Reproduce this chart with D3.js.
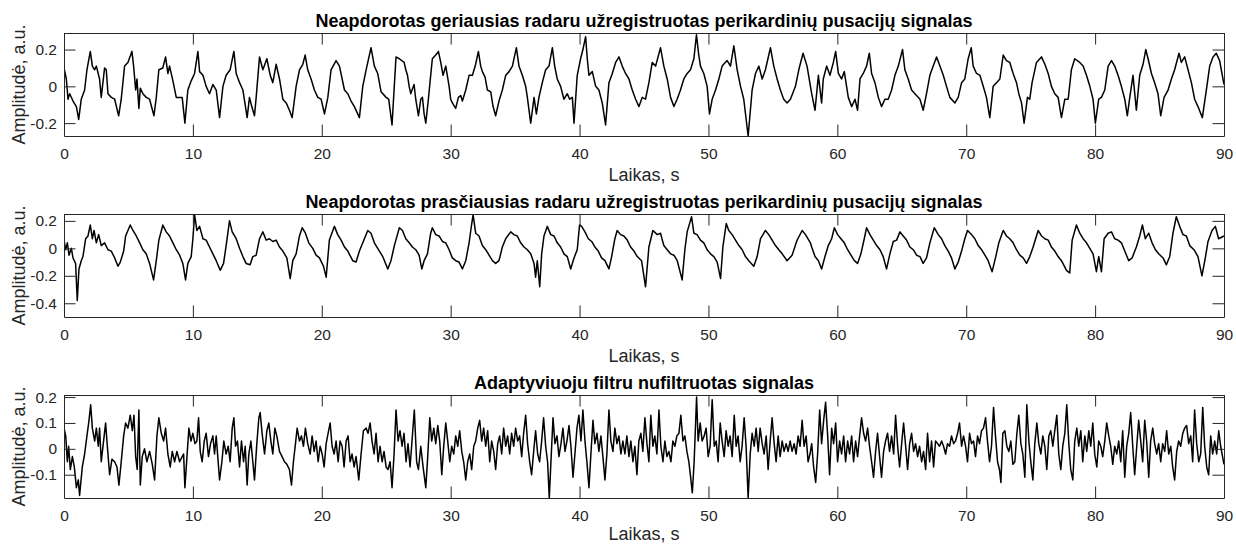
<!DOCTYPE html>
<html lang="lt">
<head>
  <meta charset="UTF-8">
  <title>Perikardinių pusacijų signalai</title>
  <style>
    body, html {
      margin: 0;
      padding: 0;
      background: #fff;
    }
    #svg {
      display: block;
      font-family: "Liberation Sans", Arial, Helvetica, sans-serif;
    }
  </style>
</head>
<body>
  <svg id="svg" width="1236" height="544"></svg>
  <script src="https://d3js.org/d3.v7.min.js"></script>
  <script>
    // titles and axis labels
    const titles = [
      'Neapdorotas geriausias radaru užregistruotas perikardinių pusacijų signalas',
      'Neapdorotas prasčiausias radaru užregistruotas perikardinių pusacijų signalas',
      'Adaptyviuoju filtru nufiltruotas signalas'
    ]
    const xLabel = 'Laikas, s'
    const yLabel = 'Amplitudė, a.u.'

    // ticks and limits
    const xTicks = [0, 10, 20, 30, 40, 50, 60, 70, 80, 90]
    const yTicks1 = [-0.2, 0, 0.2]
    const yTicks2 = [-0.4, -0.2, 0, 0.2]
    const yTicks3 = [-0.1, 0, 0.1, 0.2]
    const yLim1 = [-0.27, 0.29]
    const yLim2 = [-0.5, 0.25]
    const yLim3 = [-0.19, 0.208]

    // signals: [time s, amplitude]
    const sig1 = [
      [0,0.10],[0.18,0.04],[0.31,-0.07],[0.44,-0.04],[0.70,-0.08],[0.96,-0.11],[1.14,-0.18],[1.34,-0.07],[1.60,-0.02],[1.78,0.09],
      [2.04,0.19],[2.20,0.11],[2.38,0.09],[2.51,0.11],[2.76,0.04],[2.89,-0.06],[3.15,0.10],[3.28,0.09],[3.41,-0.04],[3.67,-0.06],
      [3.93,-0.07],[4.24,-0.16],[4.44,-0.07],[4.70,0.11],[4.96,0.13],[5.27,0.19],[5.40,0.11],[5.56,-0.02],[5.66,0.04],[5.81,-0.12],
      [5.92,-0.01],[6.12,-0.04],[6.38,-0.06],[6.64,-0.07],[6.98,-0.16],[7.16,-0.06],[7.36,0.09],[7.67,0.10],[7.88,0.16],[8.06,0.07],
      [8.19,0.11],[8.45,0.03],[8.71,-0.06],[8.97,-0.06],[9.17,-0.06],[9.38,-0.20],[9.61,-0.02],[9.87,0.03],[10.13,0.07],[10.39,0.19],
      [10.52,0.08],[10.78,0.06],[11.03,0.00],[11.29,-0.04],[11.55,0.01],[11.81,-0.02],[12.07,-0.17],[12.33,0.00],[12.58,0.06],[12.89,0.09],
      [13.18,0.19],[13.36,0.07],[13.62,0.02],[13.88,-0.02],[14.21,-0.17],[14.39,-0.06],[14.57,-0.11],[14.78,-0.16],[14.91,-0.06],[15.17,0.16],
      [15.43,0.09],[15.74,0.15],[16.00,0.06],[16.20,0.02],[16.46,0.12],[16.72,0.04],[16.98,-0.07],[17.24,-0.09],[17.49,-0.13],[17.70,-0.17],
      [18.01,0.00],[18.27,0.09],[18.53,0.12],[18.71,0.17],[18.91,0.09],[19.17,0.04],[19.43,-0.02],[19.69,-0.06],[19.95,-0.07],[20.21,-0.15],
      [20.47,-0.06],[20.72,0.09],[21.11,0.14],[21.37,0.11],[21.58,0.04],[21.76,-0.02],[22.02,-0.04],[22.27,-0.08],[22.53,-0.11],[22.92,-0.17],
      [23.18,0.00],[23.44,0.09],[23.82,0.21],[24.08,0.11],[24.34,0.07],[24.60,-0.03],[24.99,-0.06],[25.19,-0.07],[25.45,-0.21],[25.76,0.16],
      [26.02,0.15],[26.39,0.13],[26.52,0.09],[26.65,0.06],[26.78,0.00],[26.90,-0.04],[27.16,0.01],[27.29,-0.07],[27.50,-0.16],[27.68,-0.07],
      [27.81,-0.06],[27.94,-0.15],[28.07,-0.20],[28.27,-0.07],[28.45,0.06],[28.58,0.15],[28.84,0.17],[29.05,0.19],[29.23,0.13],[29.41,0.06],
      [29.62,0.11],[29.88,0.00],[30.00,-0.07],[30.13,-0.09],[30.39,-0.12],[30.60,-0.06],[30.78,-0.05],[30.91,-0.08],[31.17,-0.02],[31.43,0.06],
      [31.69,0.06],[31.94,0.12],[32.15,0.19],[32.33,0.11],[32.46,0.08],[32.67,0.05],[32.85,-0.02],[33.11,-0.03],[33.29,-0.11],[33.49,-0.16],
      [33.75,-0.08],[34.01,-0.02],[34.27,0.06],[34.53,0.08],[34.79,0.11],[35.10,0.21],[35.30,0.11],[35.56,0.06],[35.82,0.00],[35.95,-0.06],
      [36.21,-0.20],[36.47,-0.06],[36.65,-0.15],[36.85,-0.06],[37.11,0.02],[37.37,0.09],[37.63,0.11],[37.89,0.21],[38.07,0.11],[38.27,0.04],
      [38.53,0.00],[38.79,-0.07],[39.05,-0.04],[39.23,-0.07],[39.44,-0.06],[39.57,-0.20],[39.82,0.06],[40.08,0.15],[40.26,0.20],[40.47,0.27],
      [40.60,0.15],[40.73,0.06],[40.99,0.08],[41.25,0.00],[41.50,-0.02],[41.76,-0.09],[42.02,-0.21],[42.28,0.02],[42.54,0.07],[42.80,0.13],
      [43.06,0.16],[43.31,0.11],[43.57,0.07],[43.83,0.04],[44.09,-0.02],[44.35,-0.07],[44.61,-0.11],[44.86,-0.06],[45.12,-0.07],[45.38,0.02],
      [45.64,0.13],[45.90,0.11],[46.28,0.21],[46.54,0.11],[46.80,0.04],[47.06,-0.06],[47.32,-0.11],[47.57,-0.07],[47.83,-0.02],[48.09,0.04],
      [48.35,0.07],[48.61,0.09],[48.87,0.15],[49.07,0.28],[49.25,0.17],[49.38,0.11],[49.64,0.07],[49.90,0.00],[50.08,-0.15],[50.29,-0.07],
      [50.55,-0.02],[50.81,0.04],[51.06,0.11],[51.45,0.14],[51.71,0.11],[51.97,0.22],[52.23,0.09],[52.49,0.00],[52.74,-0.07],[53.08,-0.27],
      [53.39,-0.02],[53.65,0.07],[53.91,0.11],[54.17,0.04],[54.42,0.09],[54.81,0.21],[55.07,0.11],[55.33,0.04],[55.58,-0.02],[55.84,-0.07],
      [56.10,-0.09],[56.36,-0.07],[56.75,0.00],[57.01,0.09],[57.34,0.18],[57.65,0.11],[58.01,-0.04],[58.27,-0.13],[58.53,0.06],[58.78,-0.09],
      [58.91,0.04],[59.17,0.11],[59.43,0.06],[59.69,0.13],[59.87,0.19],[60.08,0.07],[60.33,0.04],[60.54,0.08],[60.85,-0.06],[61.11,-0.11],
      [61.37,-0.07],[61.57,-0.13],[61.76,0.04],[62.01,0.07],[62.27,0.11],[62.48,0.18],[62.66,0.07],[62.92,0.02],[63.18,-0.06],[63.43,-0.11],
      [63.69,-0.07],[63.95,-0.07],[64.21,-0.02],[64.47,0.06],[64.73,0.11],[65.06,0.20],[65.24,0.09],[65.50,0.04],[65.76,-0.02],[66.02,-0.04],
      [66.41,-0.07],[66.66,-0.13],[66.92,-0.04],[67.18,0.06],[67.44,0.11],[67.70,0.16],[67.96,0.11],[68.22,0.06],[68.47,0.00],[68.73,-0.06],
      [69.12,-0.09],[69.38,-0.06],[69.64,0.02],[69.89,0.04],[70.15,0.15],[70.39,0.21],[70.54,0.11],[70.80,0.07],[71.06,0.06],[71.32,0.00],
      [71.57,-0.06],[71.83,-0.17],[72.09,0.00],[72.35,0.02],[72.61,0.04],[72.87,0.17],[73.12,0.14],[73.38,0.13],[73.64,0.07],[73.90,0.02],
      [74.08,-0.04],[74.29,-0.09],[74.49,-0.20],[74.75,-0.06],[74.93,-0.07],[75.11,0.02],[75.45,0.13],[75.84,0.16],[76.10,0.12],[76.36,0.07],
      [76.61,0.00],[76.87,-0.04],[77.13,-0.06],[77.39,-0.17],[77.65,-0.07],[77.91,-0.07],[78.16,0.09],[78.42,0.15],[78.81,0.13],[79.07,0.11],
      [79.33,0.06],[79.59,0.00],[79.84,-0.07],[80.02,-0.20],[80.28,-0.07],[80.49,-0.06],[80.75,-0.02],[81.01,0.11],[81.27,0.14],[81.52,0.11],
      [81.78,0.06],[82.04,0.00],[82.30,-0.07],[82.50,-0.16],[82.69,-0.06],[82.94,0.06],[83.20,-0.13],[83.46,0.06],[83.72,0.12],[83.93,0.20],
      [84.11,0.15],[84.37,0.07],[84.62,0.02],[84.88,-0.04],[85.09,-0.16],[85.35,-0.06],[85.66,-0.02],[85.92,0.04],[86.17,0.09],[86.51,0.18],
      [86.69,0.13],[86.95,0.16],[87.21,0.09],[87.47,0.02],[87.72,-0.07],[87.98,-0.11],[88.32,-0.17],[88.63,-0.02],[88.89,0.11],[89.15,0.16],
      [89.40,0.18],[89.66,0.14],[90,0.01]
    ]

    const sig2 = [
      [0,0.06],[0.13,-0.01],[0.26,0.04],[0.39,-0.05],[0.57,0.00],[0.70,-0.07],[0.90,-0.11],[1.03,-0.38],[1.16,-0.15],[1.34,-0.09],
      [1.47,-0.06],[1.68,0.07],[1.86,0.09],[2.04,0.17],[2.20,0.07],[2.33,0.13],[2.51,0.04],[2.69,0.10],[2.89,0.02],[3.15,0.04],
      [3.41,-0.01],[3.67,-0.02],[3.93,-0.07],[4.19,-0.13],[4.37,-0.10],[4.63,-0.02],[4.78,0.09],[5.14,0.17],[5.35,0.13],[5.61,0.09],
      [5.87,0.04],[6.12,-0.01],[6.38,-0.04],[6.64,-0.11],[6.95,-0.23],[7.16,-0.09],[7.36,0.06],[7.67,0.17],[7.93,0.12],[8.19,0.09],
      [8.45,0.04],[8.71,-0.01],[8.97,-0.05],[9.22,-0.11],[9.43,-0.23],[9.61,-0.11],[9.87,-0.06],[10.00,0.07],[10.13,0.245],[10.31,0.13],
      [10.52,0.16],[10.78,0.07],[11.03,0.06],[11.29,0.01],[11.55,-0.04],[11.81,-0.09],[12.12,-0.16],[12.38,-0.11],[12.58,0.02],[12.84,0.20],
      [13.05,0.12],[13.36,0.07],[13.62,0.00],[13.88,-0.06],[14.13,-0.11],[14.44,-0.12],[14.65,-0.06],[14.91,-0.05],[15.17,0.07],[15.43,0.12],
      [15.68,0.06],[15.94,0.07],[16.20,0.05],[16.46,0.06],[16.72,0.01],[16.98,-0.02],[17.29,-0.07],[17.55,-0.22],[17.75,-0.09],[18.01,-0.04],
      [18.27,0.09],[18.48,0.15],[18.73,0.11],[18.99,0.04],[19.30,0.00],[19.56,-0.05],[19.82,-0.07],[20.13,-0.13],[20.34,-0.21],[20.59,0.06],
      [20.98,0.16],[21.24,0.10],[21.50,0.06],[21.76,0.01],[22.02,-0.02],[22.40,-0.09],[22.66,-0.10],[22.92,-0.02],[23.18,0.04],[23.57,0.13],
      [23.82,0.11],[24.08,0.04],[24.34,0.00],[24.73,-0.06],[25.12,-0.15],[25.37,-0.09],[25.63,0.02],[26.02,0.15],[26.26,0.13],[26.52,0.07],
      [26.78,0.04],[27.03,0.01],[27.29,-0.01],[27.55,-0.05],[27.76,-0.15],[27.94,-0.09],[28.20,-0.04],[28.45,0.11],[28.58,0.15],[28.84,0.10],
      [29.10,0.09],[29.36,0.05],[29.62,0.04],[29.88,-0.01],[30.13,-0.07],[30.39,-0.09],[30.65,-0.10],[30.91,-0.15],[31.17,-0.09],[31.43,0.04],
      [31.56,0.13],[31.74,0.245],[31.94,0.11],[32.20,0.09],[32.46,0.02],[32.72,-0.01],[32.98,-0.05],[33.24,-0.09],[33.49,-0.11],[33.75,-0.09],
      [34.01,0.01],[34.27,0.07],[34.66,0.12],[34.91,0.10],[35.17,0.09],[35.43,0.04],[35.69,0.01],[35.95,-0.01],[36.21,-0.04],[36.47,-0.11],
      [36.59,-0.21],[36.72,-0.09],[36.91,-0.28],[37.06,-0.04],[37.24,0.09],[37.50,0.16],[37.76,0.10],[38.02,0.09],[38.27,0.04],[38.53,0.01],
      [38.79,-0.04],[39.05,-0.06],[39.31,-0.15],[39.57,-0.07],[39.82,-0.01],[40.00,0.17],[40.16,0.16],[40.42,0.12],[40.68,0.07],[40.94,0.05],
      [41.19,0.01],[41.45,-0.02],[41.71,-0.07],[41.97,-0.09],[42.28,-0.15],[42.49,-0.06],[42.74,0.07],[42.92,0.13],[43.18,0.10],[43.44,0.09],
      [43.70,0.06],[43.96,0.01],[44.22,-0.02],[44.48,-0.06],[44.81,-0.09],[45.12,-0.28],[45.38,0.01],[45.69,0.13],[46.03,0.10],[46.28,0.11],
      [46.54,0.02],[46.80,-0.01],[47.06,-0.04],[47.32,-0.05],[47.58,-0.09],[47.96,-0.23],[48.17,-0.01],[48.35,0.12],[48.69,0.23],[48.87,0.11],
      [49.12,0.10],[49.38,0.06],[49.64,0.04],[49.90,-0.01],[50.16,-0.04],[50.42,-0.06],[50.68,-0.10],[50.94,-0.22],[51.12,0.01],[51.38,0.18],
      [51.58,0.13],[51.84,0.10],[52.10,0.06],[52.36,0.02],[52.62,-0.01],[52.87,-0.06],[53.13,-0.09],[53.52,-0.13],[53.78,-0.06],[54.04,0.07],
      [54.42,0.13],[54.68,0.10],[54.94,0.06],[55.20,0.02],[55.46,-0.01],[55.72,-0.04],[56.10,-0.09],[56.49,-0.05],[56.88,0.06],[57.27,0.13],
      [57.53,0.10],[57.91,0.04],[58.01,0.01],[58.27,-0.06],[58.53,-0.09],[58.78,-0.15],[59.04,-0.06],[59.30,0.02],[59.56,0.07],[59.77,0.15],
      [60.02,0.10],[60.28,0.07],[60.54,0.04],[60.80,-0.01],[61.06,-0.05],[61.32,-0.09],[61.57,-0.11],[61.83,-0.04],[62.09,0.07],[62.27,0.15],
      [62.53,0.10],[62.79,0.06],[63.05,0.02],[63.31,-0.01],[63.56,-0.06],[63.82,-0.15],[64.08,-0.04],[64.34,0.05],[64.60,0.06],[64.86,0.12],
      [65.11,0.09],[65.37,0.06],[65.63,0.01],[65.89,-0.01],[66.15,-0.05],[66.41,-0.06],[66.66,-0.11],[66.92,-0.07],[67.18,0.04],[67.52,0.15],
      [67.83,0.10],[68.09,0.07],[68.34,0.02],[68.60,-0.02],[68.86,-0.07],[69.12,-0.15],[69.38,-0.10],[69.64,-0.02],[69.89,0.07],[70.10,0.13],
      [70.41,0.10],[70.67,0.07],[70.93,0.02],[71.19,-0.01],[71.45,-0.05],[71.70,-0.09],[72.01,-0.17],[72.27,-0.07],[72.53,0.04],[72.87,0.13],
      [73.12,0.09],[73.38,0.07],[73.64,0.04],[73.90,-0.01],[74.16,-0.05],[74.42,-0.07],[74.68,-0.11],[74.93,-0.06],[75.19,0.01],[75.58,0.13],
      [75.84,0.09],[76.10,0.07],[76.36,0.06],[76.61,0.01],[76.87,-0.02],[77.13,-0.06],[77.39,-0.09],[77.78,-0.16],[78.03,-0.18],[78.22,0.06],
      [78.55,0.17],[78.81,0.11],[79.07,0.07],[79.33,0.04],[79.59,0.00],[79.84,-0.04],[80.10,-0.17],[80.28,-0.06],[80.49,-0.17],[80.70,0.07],
      [81.01,0.11],[81.27,0.12],[81.52,0.07],[81.78,0.06],[82.04,0.04],[82.30,-0.02],[82.61,-0.09],[82.87,-0.07],[83.20,0.01],[83.46,0.09],
      [83.67,0.17],[83.90,0.07],[84.16,0.11],[84.42,0.04],[84.68,-0.01],[84.93,-0.04],[85.27,-0.07],[85.53,-0.12],[85.79,-0.06],[86.04,0.11],
      [86.30,0.23],[86.56,0.16],[86.82,0.10],[87.08,0.09],[87.34,0.02],[87.67,-0.01],[87.98,-0.06],[88.29,-0.20],[88.55,-0.07],[88.76,0.05],
      [89.07,0.13],[89.33,0.16],[89.58,0.07],[90,0.09]
    ]

    const sig3 = [
      [0,0.08],[0.13,0.05],[0.26,-0.05],[0.36,0.01],[0.49,-0.08],[0.65,-0.03],[0.80,-0.07],[0.96,-0.15],[1.11,-0.12],[1.21,-0.18],
      [1.42,-0.07],[1.60,-0.02],[1.78,0.05],[1.94,0.11],[2.07,0.17],[2.20,0.08],[2.38,0.03],[2.51,0.08],[2.66,0.01],[2.76,0.08],
      [2.89,-0.05],[3.07,0.03],[3.23,0.10],[3.33,0.03],[3.54,-0.10],[3.72,-0.04],[3.93,-0.05],[4.11,-0.07],[4.26,-0.14],[4.42,-0.06],
      [4.63,0.05],[4.78,0.10],[4.96,0.08],[5.14,0.13],[5.30,0.07],[5.43,0.13],[5.56,-0.03],[5.68,-0.08],[5.81,0.15],[5.92,-0.14],
      [6.07,-0.03],[6.25,0.00],[6.43,-0.05],[6.64,-0.01],[6.85,-0.06],[7.03,-0.12],[7.21,0.05],[7.36,0.12],[7.55,0.06],[7.73,0.03],
      [7.88,0.08],[8.06,-0.02],[8.24,-0.07],[8.40,-0.01],[8.58,-0.05],[8.76,-0.01],[8.97,-0.05],[9.17,-0.03],[9.28,-0.02],[9.38,-0.15],
      [9.54,-0.03],[9.69,0.08],[9.85,0.03],[10.00,0.06],[10.16,0.02],[10.31,0.03],[10.44,0.12],[10.57,-0.01],[10.72,-0.05],[10.88,0.03],
      [11.03,0.06],[11.21,-0.03],[11.37,0.02],[11.55,0.05],[11.68,-0.02],[11.81,0.05],[11.96,-0.05],[12.07,-0.12],[12.25,-0.05],[12.40,0.03],
      [12.58,-0.02],[12.74,0.01],[12.89,-0.05],[13.05,0.08],[13.18,0.12],[13.31,0.01],[13.46,0.03],[13.62,-0.07],[13.77,0.03],[13.93,-0.05],
      [14.06,0.01],[14.21,-0.14],[14.34,-0.02],[14.50,0.03],[14.65,-0.05],[14.78,-0.12],[14.96,0.02],[15.12,0.12],[15.22,0.14],[15.37,0.06],
      [15.56,-0.02],[15.74,0.07],[15.89,0.10],[16.05,0.03],[16.20,-0.02],[16.36,0.08],[16.51,0.05],[16.72,-0.01],[16.92,-0.03],[17.11,-0.05],
      [17.29,-0.06],[17.49,-0.08],[17.65,-0.14],[17.80,-0.05],[17.96,0.02],[18.09,0.08],[18.27,0.03],[18.42,0.05],[18.58,0.01],[18.73,0.08],
      [18.91,0.02],[19.10,-0.02],[19.25,0.05],[19.41,-0.01],[19.56,0.03],[19.72,-0.05],[19.87,0.01],[20.03,-0.02],[20.18,-0.07],[20.34,0.02],
      [20.49,0.06],[20.65,0.10],[20.80,0.01],[20.96,-0.02],[21.11,0.03],[21.27,-0.05],[21.42,0.03],[21.58,0.01],[21.73,-0.07],[21.89,0.03],
      [22.04,0.05],[22.20,-0.05],[22.35,-0.02],[22.51,-0.07],[22.66,-0.03],[22.87,-0.12],[23.05,-0.02],[23.23,0.07],[23.44,0.08],[23.59,0.06],
      [23.75,0.10],[23.90,0.03],[24.06,-0.02],[24.21,0.06],[24.37,-0.05],[24.52,0.01],[24.68,-0.05],[24.83,-0.01],[24.99,-0.07],[25.14,-0.08],
      [25.30,-0.05],[25.45,-0.15],[25.61,-0.02],[25.76,0.15],[25.92,0.03],[26.07,0.07],[26.23,0.01],[26.38,0.06],[26.54,-0.05],[26.69,0.02],
      [26.85,-0.07],[27.00,0.03],[27.18,0.15],[27.36,-0.05],[27.50,-0.08],[27.68,0.01],[27.86,-0.07],[28.07,-0.15],[28.22,-0.03],[28.38,0.12],
      [28.53,0.03],[28.69,0.08],[28.84,0.02],[29.00,0.09],[29.15,0.03],[29.31,-0.10],[29.46,0.01],[29.62,0.10],[29.77,0.03],[29.93,-0.05],
      [30.08,0.01],[30.24,-0.02],[30.39,0.05],[30.55,0.01],[30.70,0.07],[30.86,-0.01],[31.01,-0.05],[31.17,-0.12],[31.32,-0.05],[31.48,-0.02],
      [31.63,-0.08],[31.79,0.01],[31.94,0.03],[32.10,0.08],[32.25,0.11],[32.41,0.03],[32.56,0.08],[32.72,0.01],[32.87,0.07],[33.03,-0.05],
      [33.18,0.03],[33.34,-0.01],[33.49,-0.08],[33.65,0.02],[33.80,0.05],[33.96,-0.02],[34.11,0.08],[34.27,0.01],[34.42,0.05],[34.58,-0.02],
      [34.73,0.06],[34.89,0.01],[35.04,0.08],[35.20,0.03],[35.35,0.05],[35.51,-0.03],[35.66,0.06],[35.82,0.13],[35.97,0.02],[36.13,-0.05],
      [36.28,-0.10],[36.44,-0.01],[36.59,0.07],[36.75,-0.02],[36.90,-0.05],[37.06,0.03],[37.21,0.12],[37.37,0.01],[37.52,-0.05],[37.65,-0.19],
      [37.78,-0.05],[37.94,0.12],[38.09,0.02],[38.25,0.05],[38.40,-0.03],[38.56,0.02],[38.71,0.08],[38.87,-0.01],[39.02,0.03],[39.18,0.09],
      [39.33,0.01],[39.49,-0.11],[39.64,-0.02],[39.80,0.08],[39.95,0.13],[40.11,0.03],[40.26,0.15],[40.42,0.03],[40.57,-0.05],[40.73,-0.15],
      [40.88,-0.02],[41.04,0.11],[41.19,0.02],[41.35,0.06],[41.50,-0.01],[41.66,0.05],[41.81,-0.03],[41.97,-0.12],[42.12,-0.02],[42.28,0.15],
      [42.43,0.03],[42.59,-0.01],[42.74,0.08],[42.90,0.02],[43.05,0.05],[43.21,-0.02],[43.36,0.03],[43.52,-0.02],[43.67,0.05],[43.83,-0.03],
      [43.98,0.03],[44.14,-0.05],[44.29,0.01],[44.45,-0.10],[44.60,0.03],[44.76,0.06],[44.91,-0.01],[45.07,0.12],[45.23,0.02],[45.38,-0.05],
      [45.53,0.13],[45.69,0.01],[45.84,0.05],[46.00,-0.02],[46.16,0.15],[46.31,0.01],[46.47,-0.05],[46.62,0.03],[46.78,-0.03],[46.93,-0.01],
      [47.09,-0.05],[47.24,0.03],[47.40,0.01],[47.55,0.05],[47.71,0.06],[47.86,0.13],[48.02,0.03],[48.17,0.05],[48.33,-0.01],[48.48,-0.05],
      [48.64,-0.12],[48.75,-0.17],[48.89,-0.05],[49.08,0.20],[49.20,0.03],[49.36,0.10],[49.51,0.03],[49.67,0.05],[49.82,0.08],[49.98,-0.03],
      [50.13,0.01],[50.29,0.19],[50.45,0.01],[50.60,0.03],[50.75,-0.05],[50.91,0.10],[51.06,0.03],[51.22,-0.03],[51.37,0.07],[51.53,0.01],
      [51.68,0.05],[51.84,-0.03],[52.00,0.13],[52.15,0.01],[52.30,0.05],[52.46,-0.05],[52.61,0.01],[52.77,0.12],[52.92,0.01],[53.08,-0.19],
      [53.24,-0.02],[53.39,0.06],[53.55,0.01],[53.70,0.08],[53.86,-0.01],[54.01,0.08],[54.17,0.02],[54.32,-0.02],[54.48,0.05],[54.63,-0.08],
      [54.79,0.03],[54.94,0.12],[55.10,0.02],[55.25,-0.05],[55.41,0.05],[55.56,-0.03],[55.72,0.03],[55.87,-0.01],[56.03,0.02],[56.18,-0.01],
      [56.34,0.03],[56.49,-0.01],[56.65,0.02],[56.80,-0.02],[56.96,0.05],[57.11,0.01],[57.27,0.11],[57.42,0.01],[57.58,0.05],[57.73,-0.05],
      [57.88,-0.02],[58.01,0.02],[58.16,-0.07],[58.32,-0.13],[58.47,-0.02],[58.63,0.15],[58.78,0.02],[58.94,0.11],[59.09,0.18],[59.25,0.05],
      [59.40,-0.10],[59.56,0.08],[59.71,0.02],[59.87,0.10],[60.02,-0.05],[60.18,0.03],[60.33,-0.02],[60.49,0.05],[60.64,-0.05],[60.80,0.03],
      [60.95,-0.02],[61.11,0.05],[61.26,-0.05],[61.42,0.03],[61.57,-0.03],[61.73,0.05],[61.88,0.12],[62.04,0.06],[62.19,0.03],[62.35,0.08],
      [62.50,0.01],[62.66,-0.05],[62.81,-0.11],[62.97,-0.01],[63.12,0.06],[63.28,-0.03],[63.43,-0.11],[63.59,-0.01],[63.74,0.03],[63.90,0.06],
      [64.05,-0.01],[64.21,0.05],[64.37,-0.02],[64.52,0.13],[64.68,0.01],[64.83,-0.07],[64.99,0.02],[65.14,0.10],[65.30,0.01],[65.45,-0.08],
      [65.61,0.02],[65.76,0.06],[65.92,-0.01],[66.07,0.02],[66.23,-0.03],[66.38,0.01],[66.54,-0.05],[66.69,-0.01],[66.85,-0.08],[67.00,0.06],
      [67.16,-0.05],[67.31,0.03],[67.47,-0.07],[67.62,0.03],[67.78,0.02],[67.93,0.01],[68.09,0.03],[68.24,0.01],[68.40,-0.02],[68.55,0.02],
      [68.71,0.01],[68.86,0.05],[69.02,0.02],[69.17,0.03],[69.33,0.06],[69.48,0.10],[69.64,0.01],[69.79,0.05],[69.95,0.01],[70.10,-0.05],
      [70.26,0.06],[70.41,0.02],[70.57,0.03],[70.72,-0.03],[70.88,0.05],[71.03,0.02],[71.19,0.07],[71.34,0.08],[71.50,0.12],[71.65,0.03],
      [71.81,-0.05],[71.96,0.01],[72.12,0.16],[72.27,0.05],[72.43,-0.05],[72.58,-0.08],[72.69,-0.13],[72.84,0.06],[73.00,0.07],[73.15,0.01],
      [73.31,-0.01],[73.46,0.03],[73.62,-0.06],[73.77,-0.05],[73.93,0.06],[74.08,0.13],[74.24,0.02],[74.39,-0.02],[74.55,-0.11],[74.70,0.17],
      [74.86,0.03],[75.01,-0.05],[75.17,-0.12],[75.32,0.02],[75.48,0.10],[75.63,0.02],[75.79,-0.02],[75.94,0.05],[76.10,0.01],[76.25,-0.08],
      [76.41,0.05],[76.56,0.07],[76.72,0.01],[76.87,0.07],[77.03,0.13],[77.18,-0.02],[77.34,-0.08],[77.49,0.01],[77.65,0.06],[77.80,0.17],
      [77.96,0.02],[78.11,-0.08],[78.27,-0.12],[78.42,0.03],[78.58,0.08],[78.73,0.01],[78.89,0.07],[79.04,-0.05],[79.20,0.05],[79.35,-0.01],
      [79.51,0.07],[79.66,0.01],[79.82,0.10],[79.97,-0.02],[80.13,-0.07],[80.28,0.03],[80.44,0.01],[80.59,-0.03],[80.75,0.03],[80.90,0.10],
      [81.06,0.05],[81.21,0.01],[81.37,-0.06],[81.52,0.01],[81.68,-0.02],[81.83,0.03],[81.99,-0.05],[82.14,0.07],[82.30,-0.11],[82.45,0.01],
      [82.61,0.06],[82.76,0.14],[82.92,0.01],[83.07,-0.10],[83.23,0.01],[83.38,0.11],[83.54,0.03],[83.69,-0.05],[83.85,0.11],[84.00,0.03],
      [84.16,-0.11],[84.31,0.03],[84.47,0.08],[84.62,0.02],[84.78,-0.02],[84.93,0.02],[85.09,-0.05],[85.24,0.02],[85.40,-0.01],[85.55,0.07],
      [85.71,-0.02],[85.87,0.01],[86.02,-0.07],[86.17,-0.12],[86.33,-0.01],[86.48,0.03],[86.64,0.01],[86.80,0.06],[86.95,0.08],[87.10,0.09],
      [87.26,0.02],[87.42,0.05],[87.57,-0.05],[87.72,0.15],[87.88,0.02],[88.04,-0.05],[88.19,-0.02],[88.35,0.16],[88.50,0.01],[88.66,-0.07],
      [88.81,-0.10],[88.97,0.05],[89.12,-0.02],[89.28,0.03],[89.43,-0.02],[89.59,0.07],[89.74,0.01],[90,-0.06]
    ]

    function drawChart() {
      const svg = d3.select('#svg')
      const left = 64
      const right = 1224
      const tops = [33, 214, 395]
      const ph = 103
      const tickLen = 11.5
      const textColor = '#262626'

      const x = d3.scaleLinear().domain([0, 90]).range([left, right])

      // number format like matlab: plain hyphen, no trailing zeros
      const fmt = d => String(+d.toFixed(2))

      const panels = [
        { title: titles[0], data: sig1, ylim: yLim1, yticks: yTicks1 },
        { title: titles[1], data: sig2, ylim: yLim2, yticks: yTicks2 },
        { title: titles[2], data: sig3, ylim: yLim3, yticks: yTicks3 }
      ]

      panels.forEach((p, i) => {
        const g = svg.append('g').attr('transform', `translate(0, ${tops[i]})`)
        const y = d3.scaleLinear().domain(p.ylim).range([ph, 0])

        g.append('clipPath')
          .attr('id', 'clip' + i)
          .append('rect')
          .attr('x', left)
          .attr('y', 0)
          .attr('width', right - left + 1)
          .attr('height', ph + 1)

        const line = d3.line()
          .x(d => x(d[0]))
          .y(d => y(d[1]))

        g.append('path')
          .datum(p.data)
          .attr('clip-path', `url(#clip${i})`)
          .attr('fill', 'none')
          .attr('stroke', '#000')
          .attr('stroke-width', 1.5)
          .attr('stroke-linejoin', 'round')
          .attr('d', line)

        // box with inward ticks on all four sides
        const axes = [
          g.append('g').attr('transform', `translate(0, ${ph})`)
            .call(d3.axisBottom(x).tickValues(xTicks).tickSize(-tickLen).tickSizeOuter(0).tickPadding(12).tickFormat(d3.format('d'))),
          g.append('g')
            .call(d3.axisTop(x).tickValues(xTicks).tickSize(-tickLen).tickSizeOuter(0).tickFormat('')),
          g.append('g').attr('transform', `translate(${left}, 0)`)
            .call(d3.axisLeft(y).tickValues(p.yticks).tickSize(-tickLen).tickSizeOuter(0).tickPadding(7).tickFormat(fmt)),
          g.append('g').attr('transform', `translate(${right}, 0)`)
            .call(d3.axisRight(y).tickValues(p.yticks).tickSize(-tickLen).tickSizeOuter(0).tickFormat(''))
        ]
        axes.forEach(a => {
          a.attr('font-size', 15.5)
            .attr('font-family', null)
            .attr('color', textColor)
        })

        // title
        g.append('text')
          .text(p.title)
          .attr('x', (left + right) / 2)
          .attr('y', -6.5)
          .attr('text-anchor', 'middle')
          .attr('font-size', 18)
          .attr('font-weight', 'bold')
          .attr('fill', '#000')

        // x label (last one sits at the very bottom edge)
        g.append('text')
          .text(xLabel)
          .attr('x', (left + right) / 2)
          .attr('y', i === 2 ? ph + 42 : ph + 45)
          .attr('text-anchor', 'middle')
          .attr('font-size', 18)
          .attr('fill', textColor)

        // y label
        g.append('text')
          .text(yLabel)
          .attr('transform', `translate(25, ${ph / 2}) rotate(-90)`)
          .attr('text-anchor', 'middle')
          .attr('font-size', 18)
          .attr('fill', textColor)
      })
    }
    drawChart()
  </script>
</body>
</html>
